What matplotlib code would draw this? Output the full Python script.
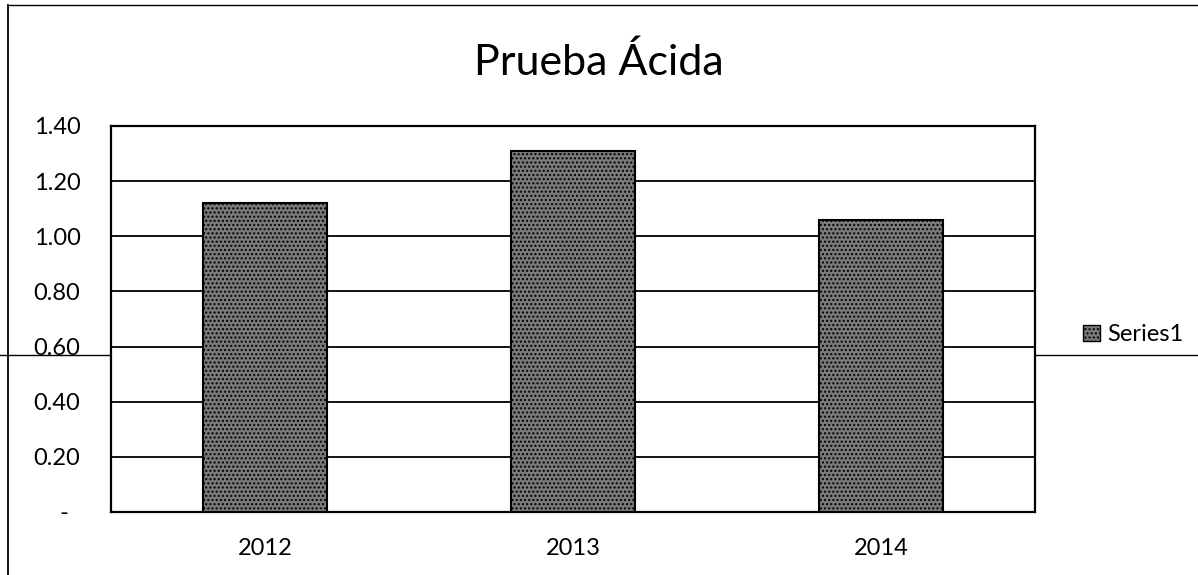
import matplotlib.pyplot as plt
from matplotlib.lines import Line2D
from matplotlib.patches import Patch

years = ['2012', '2013', '2014']
valores = [1.12, 1.31, 1.06]
yticks = [0, 0.2, 0.4, 0.6, 0.8, 1.0, 1.2, 1.4]
ylabels = ['-  ', '0.20', '0.40', '0.60', '0.80', '1.00', '1.20', '1.40']

plt.rcParams['font.family'] = ['Lato', 'DejaVu Sans']

fig = plt.figure(figsize=(11.98, 5.75), dpi=100)
W, H = 1198, 575
# area del grafico (pixeles -> fraccion)
ax = fig.add_axes([111 / W, 1 - 512 / H, (1035 - 111) / W, (512 - 126) / H])

xs = list(range(len(years)))
ax.bar(xs, valores, width=0.40, color='#7a7a7a', edgecolor='black',
       linewidth=1.5, hatch='....', zorder=3, label='Series1')

ax.set_ylim(0, 1.4)
ax.set_xlim(-0.5, 2.5)
ax.set_yticks(yticks)
ax.set_yticklabels(ylabels, fontsize=17)
ax.set_xticks(xs)
ax.set_xticklabels(years, fontsize=17)
ax.tick_params(axis='both', length=0)
ax.tick_params(axis='y', pad=22)
ax.tick_params(axis='x', pad=19)
ax.yaxis.grid(True, color='black', linewidth=1.3, zorder=0)
ax.set_axisbelow(True)
for s in ax.spines.values():
    s.set_color('black')
    s.set_linewidth(1.6)

fig.text(0.5, 1 - 62 / H, 'Prueba Ácida', ha='center', va='center',
         fontsize=31)

# leyenda
ax.legend(handles=[Patch(facecolor='#7a7a7a', edgecolor='black', hatch='....')],
          labels=['Series1'], loc='center left', frameon=False,
          bbox_to_anchor=(1062 / W, 1 - 335 / H), bbox_transform=fig.transFigure,
          fontsize=17, handlelength=0.7, handleheight=0.7, handletextpad=0.3)

# borde del area del grafico y linea del escaneo
fig.add_artist(Line2D([8 / W, 8 / W], [0, 1 - 5 / H], color='black',
                      linewidth=1.3, transform=fig.transFigure))
fig.add_artist(Line2D([8 / W, 1], [1 - 5 / H, 1 - 5 / H], color='black',
                      linewidth=1.0, transform=fig.transFigure))
fig.add_artist(Line2D([0, 1], [1 - 355 / H, 1 - 355 / H], color='black',
                      linewidth=1.0, transform=fig.transFigure, zorder=0))

fig.savefig('out.png', dpi=100)
